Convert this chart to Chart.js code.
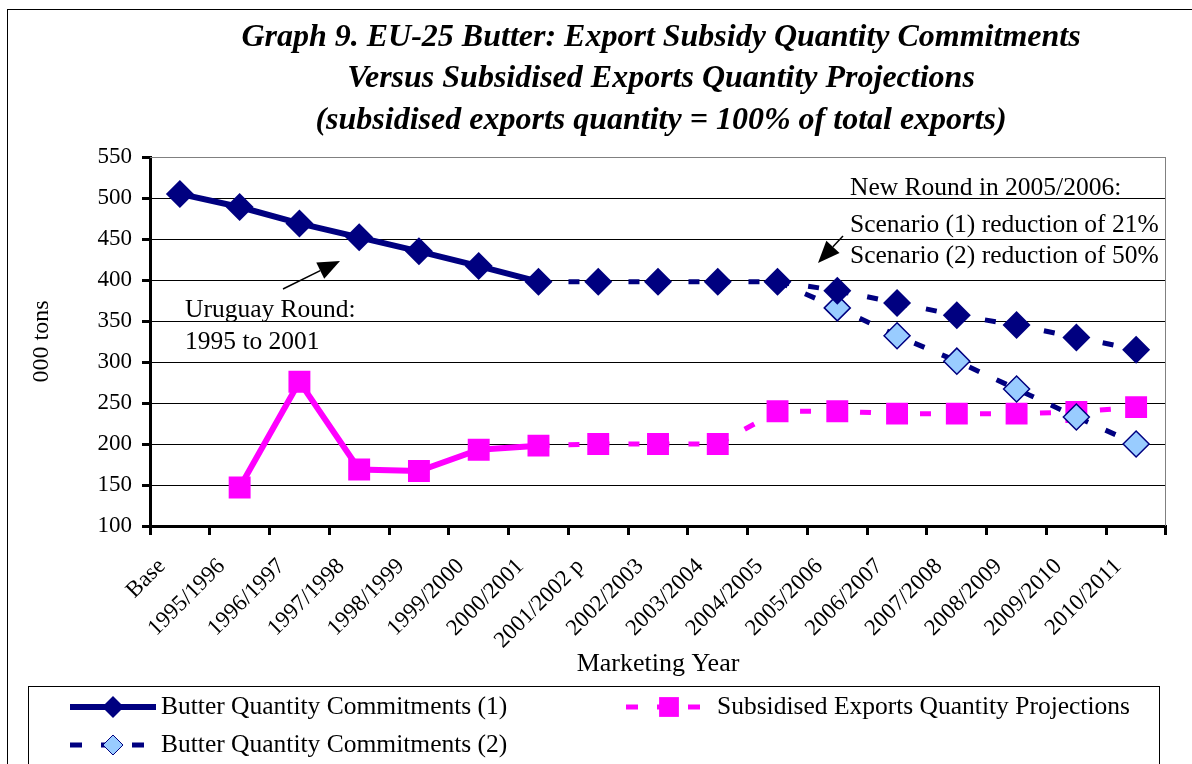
<!DOCTYPE html>
<html>
<head>
<meta charset="utf-8">
<script src="https://cdn.jsdelivr.net/npm/chart.js@4.4.1/dist/chart.umd.min.js"></script>
<style>
  html, body { margin: 0; padding: 0; background: #fff; }
  #wrap { width: 1192px; height: 764px; position: relative; }
</style>
</head>
<body>
<div id="wrap"><canvas id="butterChart" width="1192" height="764"></canvas></div>
<script>
// categories (marketing years)
const years = ['Base', '1995/1996', '1996/1997', '1997/1998', '1998/1999', '1999/2000',
  '2000/2001', '2001/2002 p', '2002/2003', '2003/2004', '2004/2005', '2005/2006',
  '2006/2007', '2007/2008', '2008/2009', '2009/2010', '2010/2011'];

// 000 tons
const commitments1 = [505, 489, 469, 452, 435, 417, 398, 398, 398, 398, 398, 387, 372, 357, 345, 330, 315];
const commitments2 = [null, null, null, null, null, null, null, null, null, null, 398, 366, 332, 301, 267, 233, 200];
const subsidised = [null, 147, 276, 169, 167, 193, 198, 200, 200, 200, 240, 240, 237, 237, 237, 239, 245];

const yTicks = [100, 150, 200, 250, 300, 350, 400, 450, 500, 550];

const titleLines = [
  'Graph 9. EU-25 Butter: Export Subsidy Quantity Commitments',
  'Versus Subsidised Exports Quantity Projections',
  '(subsidised exports quantity = 100% of total exports)'
];

const NAVY = '#000080';
const MAGENTA = '#FF00FF';
const LIGHTBLUE = '#99CCFF';
const SERIF = '"Liberation Serif", "Times New Roman", serif';
const DASH = [11, 19];
const lastActual = 6; // 2000/2001, solid up to here

// gray frame, title, notes, legend
const decorations = {
  id: 'decorations',
  afterDraw(chart) {
    const c = chart.ctx;
    const a = chart.chartArea;
    c.save();

    // outer frame
    c.strokeStyle = '#000';
    c.lineWidth = 1;
    c.strokeRect(7.5, 9.5, 1190, 770);

    // gray plot border (top/right)
    c.strokeStyle = '#808080';
    c.beginPath();
    c.moveTo(a.left, a.top + 0.5);
    c.lineTo(a.right - 0.5, a.top + 0.5);
    c.lineTo(a.right - 0.5, a.bottom);
    c.stroke();

    // title
    c.fillStyle = '#000';
    c.font = 'italic bold 32px ' + SERIF;
    c.textAlign = 'center';
    c.textBaseline = 'middle';
    const tx = (a.left + a.right) / 2 + 3;
    [38, 79, 121].forEach((y, i) => c.fillText(titleLines[i], tx, y));

    // annotations
    c.font = '25.5px ' + SERIF;
    c.textAlign = 'left';
    c.fillText('Uruguay Round:', 185, 310);
    c.fillText('1995 to 2001', 185, 342);
    c.fillText('New Round in 2005/2006:', 850, 188);
    c.fillText('Scenario (1) reduction of 21%', 850, 225);
    c.fillText('Scenario (2) reduction of 50%', 850, 256);

    function arrow(x1, y1, x2, y2) {
      const ang = Math.atan2(y2 - y1, x2 - x1);
      const hl = 22, hw = 9;
      const bx = x2 - hl * Math.cos(ang), by = y2 - hl * Math.sin(ang);
      c.strokeStyle = '#000';
      c.lineWidth = 1.5;
      c.beginPath();
      c.moveTo(x1, y1);
      c.lineTo(bx, by);
      c.stroke();
      c.beginPath();
      c.moveTo(x2, y2);
      c.lineTo(bx + hw * Math.sin(ang), by - hw * Math.cos(ang));
      c.lineTo(bx - hw * Math.sin(ang), by + hw * Math.cos(ang));
      c.closePath();
      c.fill();
    }
    arrow(283, 289, 340, 261);
    arrow(843, 236, 818, 263);

    // legend box
    c.strokeStyle = '#000';
    c.lineWidth = 1;
    c.strokeRect(28.5, 686.5, 1131, 100);

    const ds = chart.data.datasets;
    function legendItem(d, x1, x2, y, text, dashed) {
      c.save();
      c.strokeStyle = d.borderColor;
      c.lineWidth = dashed ? 5 : 6;
      c.setLineDash(dashed ? [12, 19] : []);
      c.beginPath();
      c.moveTo(x1, y);
      c.lineTo(x2, y);
      c.stroke();
      c.restore();
      Chart.helpers.drawPoint(c, {
        pointStyle: d.pointStyle,
        radius: d.legendRadius,
        borderWidth: d.pointBorderWidth
      }, (x1 + x2) / 2, y);
      c.fillStyle = '#000';
      c.font = '25.5px ' + SERIF;
      c.textAlign = 'left';
      c.textBaseline = 'middle';
      c.fillText(text, x2 + 5, y);
    }
    function pointColors(d) {
      c.fillStyle = d.pointBackgroundColor;
      c.strokeStyle = d.pointBorderColor;
    }
    pointColors(ds[0]);
    legendItem(ds[0], 70, 156, 707, ds[0].label, false);
    pointColors(ds[2]);
    legendItem(ds[2], 626, 712, 707, ds[2].label, true);
    pointColors(ds[1]);
    legendItem(ds[1], 70, 156, 745, ds[1].label, true);

    c.restore();
  }
};

const ctx = document.getElementById('butterChart').getContext('2d');
new Chart(ctx, {
  type: 'line',
  data: {
    labels: years,
    datasets: [{
      label: 'Butter Quantity Commitments (1)',
      data: commitments1,
      borderColor: NAVY,
      borderWidth: 6,
      pointStyle: 'rectRot',
      pointRadius: 14,
      legendRadius: 11,
      pointBorderWidth: 0,
      pointBackgroundColor: NAVY,
      pointBorderColor: NAVY,
      segment: {
        borderDash: s => s.p0DataIndex >= lastActual ? DASH : undefined,
        borderWidth: s => s.p0DataIndex >= lastActual ? 5 : 6
      }
    }, {
      label: 'Butter Quantity Commitments (2)',
      data: commitments2,
      borderColor: NAVY,
      borderWidth: 5,
      borderDash: DASH,
      pointStyle: 'rectRot',
      pointRadius: commitments2.map((v, i) => i === 10 ? 0 : 13),
      legendRadius: 10,
      pointBorderWidth: 1.5,
      pointBackgroundColor: LIGHTBLUE,
      pointBorderColor: NAVY
    }, {
      label: 'Subsidised Exports Quantity Projections',
      data: subsidised,
      borderColor: MAGENTA,
      borderWidth: 6,
      pointStyle: 'rect',
      pointRadius: 15.5,
      legendRadius: 14,
      pointBorderWidth: 0,
      pointBackgroundColor: MAGENTA,
      pointBorderColor: MAGENTA,
      segment: {
        borderDash: s => s.p0DataIndex >= lastActual ? DASH : undefined,
        borderWidth: s => s.p0DataIndex >= lastActual ? 5 : 6
      }
    }]
  },
  options: {
    responsive: false,
    animation: false,
    spanGaps: false,
    layout: { padding: { left: 0, right: 26, top: 157, bottom: 0 } },
    plugins: {
      legend: { display: false },
      title: { display: false },
      tooltip: { enabled: false }
    },
    elements: { line: { tension: 0 } },
    scales: {
      x: {
        type: 'category',
        offset: true,
        grid: {
          offset: true,
          drawOnChartArea: false,
          tickLength: 9,
          tickWidth: 3,
          tickColor: '#000'
        },
        border: { color: '#000', width: 3 },
        ticks: {
          autoSkip: false,
          maxRotation: 45,
          minRotation: 45,
          padding: 18,
          labelOffset: -18,
          color: '#000',
          font: { family: SERIF, size: 23 }
        },
        title: {
          display: true,
          text: 'Marketing Year',
          color: '#000',
          font: { family: SERIF, size: 26 },
          padding: { top: 0, bottom: 84 }
        },
        afterFit(scale) { scale.height = 238; }
      },
      y: {
        min: 100,
        max: 550,
        afterBuildTicks(scale) { scale.ticks = yTicks.map(v => ({ value: v })); },
        grid: {
          color: g => (g.tick && g.tick.value === 550) ? '#808080' : '#000',
          lineWidth: 1,
          tickLength: 8,
          tickWidth: 3,
          tickColor: '#000'
        },
        border: { color: '#000', width: 3 },
        ticks: {
          padding: 10,
          color: '#000',
          font: { family: SERIF, size: 23 }
        },
        title: {
          display: true,
          text: '000 tons',
          color: '#000',
          font: { family: SERIF, size: 24 },
          padding: { top: 27, bottom: 0 }
        },
        afterFit(scale) { scale.width = 150; }
      }
    }
  },
  plugins: [decorations]
});
</script>
</body>
</html>
